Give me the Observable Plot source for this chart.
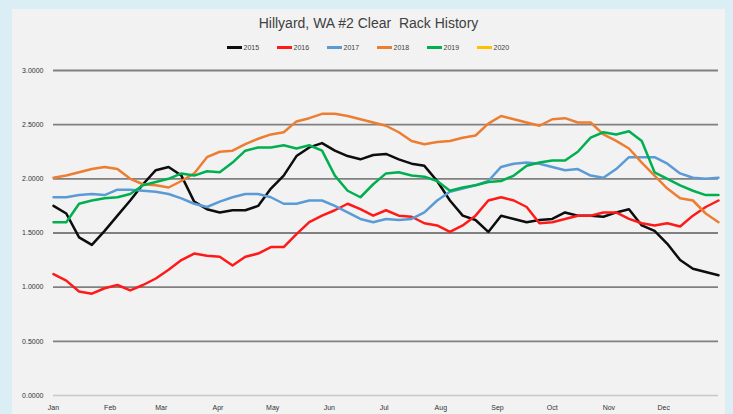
<!DOCTYPE html>
<html>
<head>
<meta charset="utf-8">
<script src="https://cdn.jsdelivr.net/npm/d3@7"></script>
<script src="https://cdn.jsdelivr.net/npm/@observablehq/plot@0.6"></script>
<style>
  body { margin: 0; background: #dbeef6; }
  #wrap { position: relative; width: 733px; height: 414px; overflow: hidden; font-family: "Liberation Sans", Arial, sans-serif; }
  #panel { position: absolute; left: 12px; top: 9px; width: 713px; height: 405px; background: #f2f2f2; }
  #title { position: absolute; left: 12px; width: 713px; top: 15px; text-align: center; font-size: 14px; color: #404040; }
  #legend { position: absolute; left: 20px; width: 713px; top: 44px; display: flex; justify-content: center; font-size: 7px; color: #404040; }
  .item { display: flex; align-items: center; width: 50px; }
  .sw { display: inline-block; width: 15px; height: 3.5px; margin-right: 2px; }
  #chart { position: absolute; left: 0; top: 58px; }
  #chart svg text { fill: #333333; }
</style>
</head>
<body>
<div id="wrap">
  <div id="panel"></div>
  <div id="title">Hillyard, WA #2 Clear&nbsp; Rack History</div>
  <div id="legend"></div>
  <div id="chart"></div>
</div>
<script>
// Series legend
const years = ["2015", "2016", "2017", "2018", "2019", "2020"];
const colors = ["#0d0d0d", "#ff1a1a", "#5b9bd5", "#ed7d31", "#00b050", "#ffc000"];

// Month tick labels
const monthLabels = ["Jan","Feb","Mar","Apr","May","Jun","Jul","Aug","Sep","Oct","Nov","Dec"];

// Y ticks
const yTicks = [0, 0.5, 1.0, 1.5, 2.0, 2.5, 3.0];

// Weekly samples (day of year offsets: 0, 7, 14, ... 364)
const sampleDays = d3.range(0, 365, 7);

// Rack price values
const s2015 = [1.75,1.68,1.46,1.39,1.52,1.66,1.80,1.95,2.08,2.11,2.03,1.79,1.72,
               1.69,1.71,1.71,1.75,1.91,2.03,2.21,2.29,2.33,2.26,2.21,2.18,2.22,
               2.23,2.18,2.14,2.12,1.98,1.80,1.66,1.62,1.51,1.66,1.63,1.60,1.62,
               1.63,1.69,1.66,1.66,1.65,1.69,1.72,1.57,1.52,1.40,1.25,1.17,1.14,1.11];
const s2016 = [1.12,1.06,0.96,0.94,0.99,1.02,0.97,1.02,1.08,1.16,1.25,1.31,1.29,
               1.28,1.20,1.28,1.31,1.37,1.37,1.49,1.60,1.66,1.71,1.77,1.72,1.66,
               1.71,1.66,1.65,1.59,1.57,1.51,1.57,1.66,1.80,1.83,1.80,1.74,1.59,
               1.60,1.63,1.66,1.66,1.69,1.69,1.63,1.59,1.57,1.59,1.56,1.66,1.74,1.80];
const s2017 = [1.83,1.83,1.85,1.86,1.85,1.90,1.90,1.89,1.88,1.86,1.82,1.77,1.74,
               1.79,1.83,1.86,1.86,1.83,1.77,1.77,1.80,1.80,1.75,1.69,1.63,1.60,
               1.63,1.62,1.63,1.69,1.80,1.88,1.91,1.94,1.98,2.11,2.14,2.15,2.14,
               2.11,2.08,2.09,2.03,2.01,2.09,2.20,2.20,2.20,2.14,2.05,2.01,2.00,2.01];
const s2018 = [2.01,2.03,2.06,2.09,2.11,2.09,2.00,1.95,1.94,1.92,1.98,2.05,2.20,
               2.25,2.26,2.32,2.37,2.41,2.43,2.53,2.56,2.60,2.60,2.58,2.55,2.52,
               2.49,2.43,2.35,2.32,2.34,2.35,2.38,2.40,2.51,2.58,2.55,2.52,2.49,
               2.55,2.56,2.52,2.52,2.41,2.35,2.28,2.15,2.03,1.91,1.82,1.80,1.68,1.60];
const s2019 = [1.60,1.60,1.77,1.80,1.82,1.83,1.86,1.94,1.97,2.00,2.05,2.03,2.07,
               2.06,2.15,2.26,2.29,2.29,2.31,2.28,2.31,2.26,2.03,1.89,1.83,1.95,
               2.05,2.06,2.03,2.02,1.98,1.89,1.92,1.94,1.97,1.98,2.03,2.12,2.15,
               2.17,2.17,2.25,2.38,2.43,2.41,2.44,2.35,2.06,2.00,1.94,1.89,1.85,1.85];
const s2020 = [];

const seriesList = [s2015, s2016, s2017, s2018, s2019, s2020];

const rows = [];
seriesList.forEach((s, k) => {
  s.forEach((v, i) => rows.push({ year: years[k], date: new Date(Date.UTC(2015, 0, 1 + sampleDays[i])), value: v }));
});

const monthStarts = monthLabels.map((m, i) => new Date(Date.UTC(2015, i, 1)));

// Legend
const legend = document.getElementById("legend");
years.forEach((y, i) => {
  const it = document.createElement("div");
  it.className = "item";
  it.innerHTML = `<span class="sw" style="background:${colors[i]}"></span><span>${y}</span>`;
  legend.appendChild(it);
});

const chart = Plot.plot({
  width: 733,
  height: 356,
  marginLeft: 53,
  marginRight: 15,
  marginTop: 12,
  marginBottom: 19,
  style: { background: "transparent", fontFamily: "Liberation Sans, Arial, sans-serif", fontSize: "7px", color: "#333333", overflow: "visible" },
  x: {
    type: "utc",
    domain: [new Date(Date.UTC(2015, 0, 1)), new Date(Date.UTC(2015, 11, 31))],
    ticks: monthStarts,
    tickFormat: (d) => monthLabels[d.getUTCMonth()],
    tickSize: 0,
    tickPadding: 10,
    label: null
  },
  y: {
    domain: [0, 3],
    ticks: yTicks,
    tickFormat: d3.format(".4f"),
    tickSize: 0,
    tickPadding: 10,
    label: null
  },
  color: { domain: years, range: colors },
  marks: [
    Plot.ruleY(yTicks.filter(v => v > 0), { stroke: "#808080", strokeWidth: 1.9 }),
    Plot.ruleY([0], { stroke: "#c8c8c8", strokeWidth: 1.5 }),
    Plot.line(rows, { x: "date", y: "value", z: "year", stroke: "year", strokeWidth: 2.5, strokeLinejoin: "round" })
  ]
});
document.getElementById("chart").appendChild(chart);
</script>
</body>
</html>
